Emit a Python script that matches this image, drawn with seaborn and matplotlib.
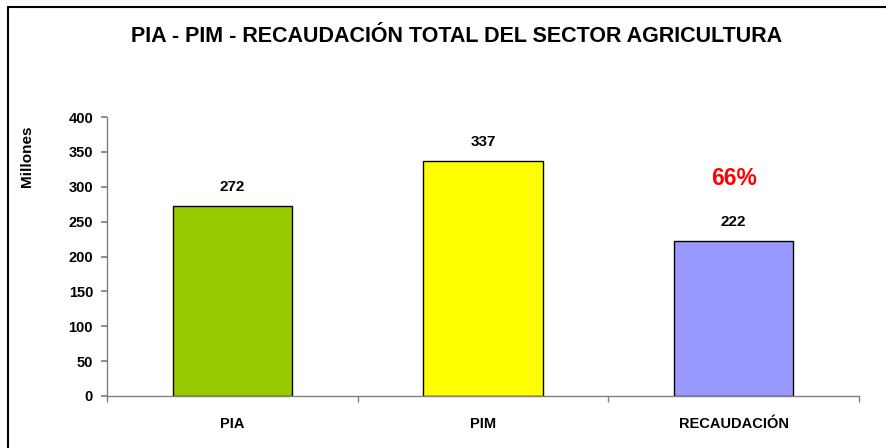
import matplotlib
matplotlib.use("Agg")
import matplotlib.pyplot as plt
from matplotlib.lines import Line2D
import seaborn as sns
import pandas as pd

# chart data
categorias = ["PIA", "PIM", "RECAUDACIÓN"]
millones = [272, 337, 222]
colores = ["#99CC00", "#FFFF00", "#9999FF"]
avance_pct = "66%"
y_ticks = [0, 50, 100, 150, 200, 250, 300, 350, 400]

sns.set_theme(style="white")
plt.rcParams['font.family'] = ['Liberation Sans', 'DejaVu Sans']
plt.rcParams['text.color'] = 'black'

df = pd.DataFrame({"categoria": categorias, "millones": millones})

fig = plt.figure(figsize=(8.87, 4.48), dpi=100)
ax = fig.add_axes([0.1206, 0.1161, 0.9684 - 0.1206, 0.7388 - 0.1161])

sns.barplot(data=df, x="categoria", y="millones", hue="categoria",
            palette=colores, saturation=1, width=0.475, edgecolor="black",
            linewidth=1.0, legend=False, ax=ax)

ax.set_xlim(-0.5, 2.5)
ax.set_ylim(0, 400)
ax.set_yticks(y_ticks)
ax.set_yticklabels([str(t) for t in y_ticks], fontsize=10.5, fontweight="bold")
ax.set_xticks(range(len(categorias)))
ax.set_xticklabels(categorias, fontsize=10.5, fontweight="bold")
ax.set_xlabel("")
ax.set_ylabel("")

# category-boundary ticks like the original
ax.set_xticks([-0.5, 0.5, 1.5, 2.5], minor=True)
ax.tick_params(axis="x", which="major", length=0, pad=15, labelcolor="black")
ax.tick_params(axis="x", which="minor", length=4, color="#808080", direction="out", bottom=True)
ax.tick_params(axis="y", length=4, color="#808080", direction="out", left=True, pad=6,
               labelcolor="black")

for s in ["top", "right"]:
    ax.spines[s].set_visible(False)
for s in ["left", "bottom"]:
    ax.spines[s].set_color("#808080")
    ax.spines[s].set_linewidth(1.0)

for i, v in enumerate(millones):
    ax.annotate(str(v), (i, v), xytext=(0, 14), textcoords="offset points",
                ha="center", va="center", fontsize=11, fontweight="bold", color="black")

ax.text(2, 312, avance_pct, ha="center", va="center", color="red",
        fontsize=16.5, fontweight="bold")

fig.text(0.515, 0.918, "PIA - PIM - RECAUDACIÓN TOTAL DEL SECTOR AGRICULTURA",
         ha="center", va="center", fontsize=15.5, fontweight="bold", color="black")
fig.text(0.030, 0.651, "Millones", rotation=90, ha="center", va="center",
         fontsize=11, fontweight="bold", color="black")

# outer frame (only left and top visible in the original crop)
fig.add_artist(Line2D([0.009, 0.009], [0.0, 0.984], color="black", linewidth=1.5,
                      transform=fig.transFigure))
fig.add_artist(Line2D([0.009, 1.0], [0.984, 0.984], color="black", linewidth=1.5,
                      transform=fig.transFigure))

fig.savefig("out.png", dpi=100, facecolor="white")
